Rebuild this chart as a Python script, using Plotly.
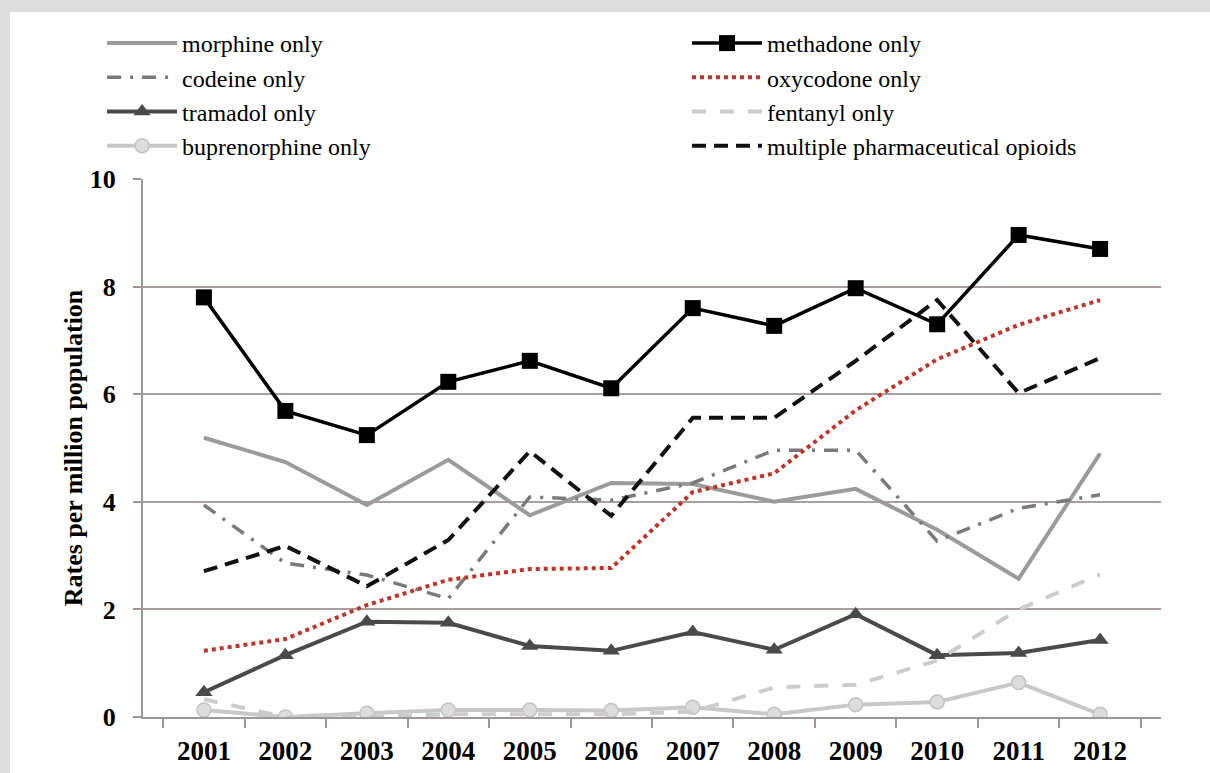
import plotly.graph_objects as go

years = ["2001", "2002", "2003", "2004", "2005", "2006",
         "2007", "2008", "2009", "2010", "2011", "2012"]

morphine = [5.19, 4.74, 3.94, 4.78, 3.75, 4.35, 4.33, 4.00, 4.24, 3.48, 2.57, 4.90]
codeine = [3.94, 2.86, 2.64, 2.20, 4.09, 4.03, 4.35, 4.96, 4.96, 3.27, 3.88, 4.13]
tramadol = [0.46, 1.15, 1.77, 1.75, 1.32, 1.23, 1.58, 1.25, 1.91, 1.15, 1.19, 1.43]
buprenorphine = [0.13, 0.00, 0.07, 0.13, 0.13, 0.12, 0.18, 0.05, 0.23, 0.28, 0.64, 0.05]
methadone = [7.80, 5.69, 5.24, 6.23, 6.62, 6.11, 7.60, 7.27, 7.97, 7.30, 8.96, 8.70]
oxycodone = [1.23, 1.45, 2.08, 2.55, 2.75, 2.77, 4.18, 4.53, 5.70, 6.65, 7.29, 7.75]
fentanyl = [0.33, 0.00, 0.00, 0.05, 0.05, 0.05, 0.10, 0.55, 0.60, 1.05, 2.00, 2.65]
multiple = [2.71, 3.18, 2.43, 3.29, 4.94, 3.74, 5.56, 5.56, 6.62, 7.75, 6.02, 6.67]

FONT = "Liberation Serif"
AXIS_GREY = "#a09794"

fig = go.Figure()

# left column of the legend -> "legend", right column -> "legend2"
fig.add_scatter(x=years, y=morphine, name="morphine only", mode="lines",
                line=dict(color="#9b9b9b", width=4), legend="legend")
fig.add_scatter(x=years, y=codeine, name="codeine only", mode="lines",
                line=dict(color="#7a7a7a", width=3.5, dash="14px,9px,3px,9px"), legend="legend")
fig.add_scatter(x=years, y=tramadol, name="tramadol only", mode="lines+markers",
                line=dict(color="#4a4a4a", width=4),
                marker=dict(symbol="triangle-up", size=15, color="#4a4a4a"), legend="legend")
fig.add_scatter(x=years, y=buprenorphine, name="buprenorphine only", mode="lines+markers",
                line=dict(color="#c8c8c8", width=4),
                marker=dict(symbol="circle", size=14, color="#dcdcdc",
                            line=dict(color="#c4c4c4", width=1.5)), legend="legend")
fig.add_scatter(x=years, y=fentanyl, name="fentanyl only", mode="lines",
                line=dict(color="#cccccc", width=4, dash="14px,14px"), legend="legend2",
                legendrank=3)
fig.add_scatter(x=years, y=oxycodone, name="oxycodone only", mode="lines",
                line=dict(color="#c0342b", width=4, dash="dot"), legend="legend2",
                legendrank=2)
fig.add_scatter(x=years, y=multiple, name="multiple pharmaceutical opioids", mode="lines",
                line=dict(color="#111111", width=4, dash="14px,8px"), legend="legend2",
                legendrank=4)
fig.add_scatter(x=years, y=methadone, name="methadone only", mode="lines+markers",
                line=dict(color="#000000", width=3.5),
                marker=dict(symbol="square", size=16, color="#000000"), legend="legend2",
                legendrank=1)

# white panel on grey page
fig.add_shape(type="rect", xref="paper", yref="paper",
              x0=-0.1306, x1=1.06, y0=-0.12, y1=1.3104,
              fillcolor="white", line_width=0, layer="below")

leg = dict(
    yanchor="top", y=1.2937, xanchor="left",
    traceorder="normal",
    font=dict(family=FONT, size=24, color="black"),
    bgcolor="rgba(0,0,0,0)",
    itemwidth=70,
)

fig.update_layout(
    width=1210, height=773,
    margin=dict(l=143, r=49, t=179, b=56),
    paper_bgcolor="#dcdcdc",
    plot_bgcolor="rgba(0,0,0,0)",
    font=dict(family=FONT, color="black"),
    legend=dict(leg, x=-0.0402),
    legend2=dict(leg, x=0.5344),
    xaxis=dict(
        type="category",
        automargin=False,
        showgrid=False,
        showline=True, linecolor=AXIS_GREY, linewidth=2,
        ticks="outside", tickson="boundaries", ticklen=9, tickcolor=AXIS_GREY, tickwidth=2,
        ticklabelstandoff=9,
        tickfont=dict(family=FONT, size=27, color="black", weight="bold"),
    ),
    yaxis=dict(
        range=[0, 10], dtick=2,
        automargin=False,
        showgrid=True, gridcolor="#a9a09e", gridwidth=1.5,
        showline=True, linecolor=AXIS_GREY, linewidth=2,
        ticks="outside", ticklen=8, tickcolor=AXIS_GREY, tickwidth=2,
        ticklabelstandoff=12,
        zeroline=False,
        tickfont=dict(family=FONT, size=26, color="black", weight="bold"),
        title=dict(text="Rates per million population", standoff=0,
                   font=dict(family=FONT, size=26, color="black", weight="bold")),
    ),
)

fig.write_html("out.html", config={"displayModeBar": False},
               post_script="document.body.style.margin='0';")
